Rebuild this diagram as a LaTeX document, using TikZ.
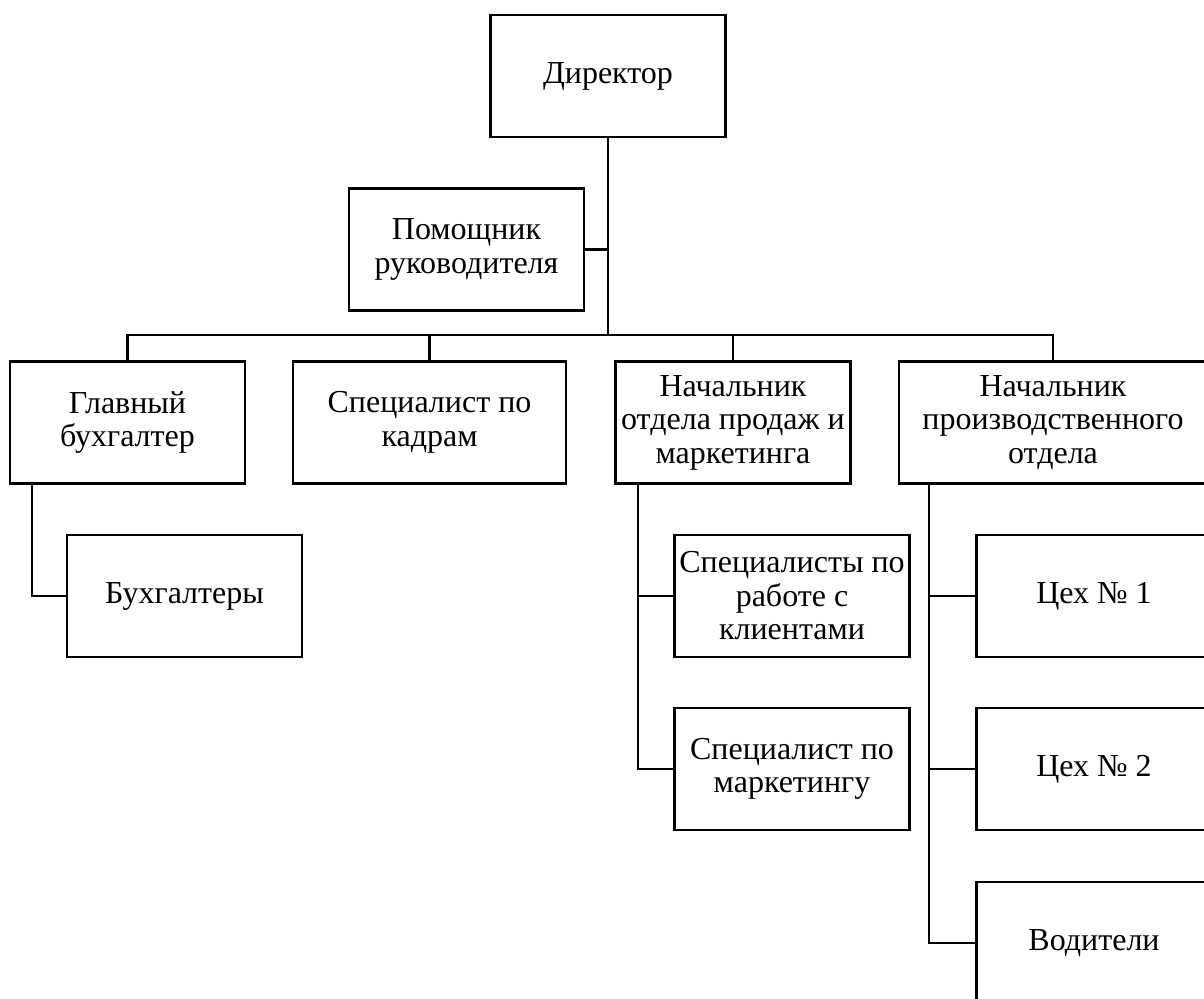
\documentclass[tikz,border=0pt]{standalone}
\usepackage{fontspec}
\setmainfont{Liberation Serif}
\usetikzlibrary{positioning,calc}

\begin{document}
\begin{tikzpicture}[x=1pt, y=-1pt,
    post/.style={draw, line width=2.4pt, minimum width=235pt,
                 minimum height=122pt, inner sep=2pt, align=center,
                 font=\fontsize{32}{33.5}\selectfont},
    link/.style={line width=2.2pt}
]
\clip (0,0) rectangle (1204,998);

% --- top ---
\node[post]                        (dir)    at (608,76)    {Директор};
\node[post]                        (pom)    at (466.5,249.5) {Помощник\\руководителя};

% --- departments ---
\node[post]                        (glav)   at (127.5,422.5) {Главный\\бухгалтер};
\node[post, minimum width=273pt]   (kadr)   at (429.5,422.5) {Специалист по\\кадрам};
\node[post]                        (prod)   at (733,422.5)   {Начальник\\отдела продаж и\\маркетинга};
\node[post, minimum width=308pt]   (proizv) at (1053,422.5)  {Начальник\\производственного\\отдела};

% --- staff ---
\node[post]                        (buh)    at (184.5,596)   {Бухгалтеры};
\node[post]                        (klient) at (792,596)     {Специалисты по\\работе с\\клиентами};
\node[post]                        (market) at (792,769)     {Специалист по\\маркетингу};
\node[post]                        (ceh1)   at (1094,596)    {Цех № 1};
\node[post]                        (ceh2)   at (1094,769)    {Цех № 2};
\node[post]                        (vod)    at (1094,943)    {Водители};

% --- lines ---
\coordinate (bus) at (608,335);
\draw[link] (dir.south) -- (bus);
\draw[link] (pom.east) -- (pom.east -| dir.south);
\draw[link] (glav.north) |- (bus) -| (proizv.north);
\draw[link] (kadr.north) -- (kadr.north |- bus);
\draw[link] (prod.north) -- (prod.north |- bus);
\draw[link] ([xshift=23pt]glav.south west) |- (buh.west);
\draw[link] ([xshift=24pt]prod.south west) |- (klient.west);
\draw[link] ([xshift=24pt]prod.south west) |- (market.west);
\draw[link] ([xshift=31pt]proizv.south west) |- (ceh1.west);
\draw[link] ([xshift=31pt]proizv.south west) |- (ceh2.west);
\draw[link] ([xshift=31pt]proizv.south west) |- (vod.west);

\end{tikzpicture}
\end{document}
